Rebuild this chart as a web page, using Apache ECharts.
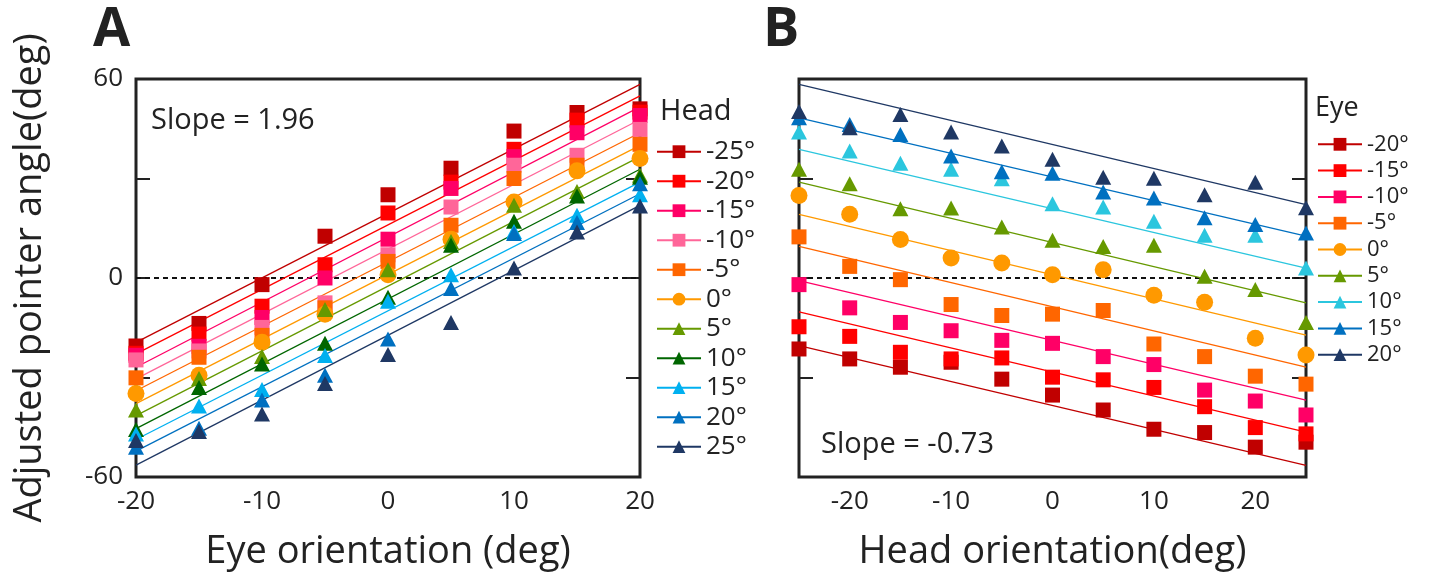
<!DOCTYPE html>
<html>
<head>
<meta charset="utf-8">
<script src="https://cdn.jsdelivr.net/npm/echarts@6/dist/echarts.min.js"></script>
<style>
html, body { margin: 0; padding: 0; background: #fff; }
#main { width: 1429px; height: 576px; }
</style>
</head>
<body>
<div id="main"></div>
<script>
// ---- panel A: x = eye orientation, one series per head orientation
var eyeA = [-20, -15, -10, -5, 0, 5, 10, 15, 20];
var headNamesA = ['-25°', '-20°', '-15°', '-10°', '-5°', '0°', '5°', '10°', '15°', '20°', '25°'];
var valuesA = [
    [-20.5, -13.7, -2.0, 12.6, 25.1, 33.1, 44.3, 49.9, 51.0],
    [-22.7, -16.9, -8.5, 4.0, 19.6, 28.9, 38.8, 47.6, 50.0],
    [-23.3, -20.6, -11.9, 0.0, 11.7, 27.0, 36.6, 43.8, 49.0],
    [-24.7, -22.0, -14.9, -7.5, 7.0, 21.4, 34.0, 37.0, 44.8],
    [-30.1, -23.9, -17.3, -9.0, 5.0, 15.9, 30.0, 34.0, 40.3],
    [-34.8, -29.3, -19.4, -10.9, 1.0, 11.7, 22.9, 32.3, 36.0],
    [-39.8, -30.3, -23.7, -9.5, 2.5, 11.0, 21.9, 26.1, 31.0],
    [-45.7, -33.0, -25.9, -19.7, -5.8, 9.9, 17.1, 24.7, 30.4],
    [-47.0, -38.6, -33.6, -23.4, -7.0, 1.0, 14.0, 18.9, 25.1],
    [-51.0, -45.3, -36.8, -29.3, -18.4, -3.2, 13.4, 16.7, 28.4],
    [-49.0, -46.3, -41.0, -31.8, -23.1, -13.4, 3.0, 13.9, 21.7]
];
// fitted lines, value at eye = -20 and eye = 20
var fitStartA = [-19.4, -22.9, -26.9, -30.4, -34.0, -37.9, -41.5, -45.4, -48.7, -52.2, -56.4];
var fitEndA = [58.4, 54.9, 51.6, 47.8, 43.8, 40.0, 36.6, 32.8, 28.9, 25.4, 21.9];

// ---- panel B: x = head orientation, one series per eye orientation
var headB = [-25, -20, -15, -10, -5, 0, 5, 10, 15, 20, 25];
var eyeNamesB = ['-20°', '-15°', '-10°', '-5°', '0°', '5°', '10°', '15°', '20°'];
var valuesB = [
    [-21.4, -24.4, -26.9, -25.4, -30.5, -35.3, -39.8, -45.6, -46.6, -51.0, -49.5],
    [-14.7, -17.6, -22.4, -24.4, -24.1, -29.9, -30.7, -33.0, -38.8, -45.1, -47.0],
    [-2.0, -9.0, -13.4, -15.9, -18.8, -19.7, -23.7, -26.1, -33.8, -37.1, -41.3],
    [12.4, 3.5, -0.5, -8.0, -11.3, -10.9, -9.8, -19.9, -23.7, -29.6, -32.0],
    [24.9, 19.2, 11.6, 6.0, 4.5, 1.0, 2.5, -5.2, -7.3, -18.2, -23.2],
    [32.8, 28.4, 20.9, 21.1, 15.4, 11.4, 9.5, 9.9, 0.5, -3.5, -13.4],
    [44.0, 38.3, 34.6, 32.8, 29.9, 22.4, 21.4, 17.1, 12.9, 12.9, 3.0],
    [48.3, 46.3, 43.3, 36.8, 32.0, 31.6, 25.9, 24.1, 18.2, 16.1, 13.6],
    [50.2, 45.3, 49.3, 44.0, 39.8, 35.8, 30.4, 30.1, 25.1, 28.9, 21.2]
];
// fitted lines, value at head = -25 and head = 25
var fitStartB = [-20.4, -10.2, -0.8, 9.5, 19.2, 28.9, 38.8, 48.3, 58.4];
var fitEndB = [-56.5, -46.5, -36.8, -26.9, -17.2, -7.5, 3.0, 12.6, 22.1];

var colorsA = ['#C00000', '#FF0000', '#FF0066', '#FF6699', '#FF6600', '#FF9900',
    '#669900', '#006600', '#00B0F0', '#0070C0', '#1F3864'];
var symbolsA = ['rect', 'rect', 'rect', 'rect', 'rect', 'circle',
    'triangle', 'triangle', 'triangle', 'triangle', 'triangle'];
var colorsB = ['#C00000', '#FF0000', '#FF0066', '#FF6600', '#FF9900',
    '#669900', '#2BC6DE', '#0070C0', '#1F3864'];
var symbolsB = ['rect', 'rect', 'rect', 'rect', 'circle',
    'triangle', 'triangle', 'triangle', 'triangle'];

var FONT = '"Open Sans", "Noto Sans", sans-serif';
var INK = '#222';

function symSize(s) {
    if (s == 'circle') return 17;
    if (s == 'triangle') return [16, 15];
    return 15;
}

var series = [];

function addPanel(prefix, xs, names, values, fitStart, fitEnd, xMin, xMax, colors, symbols, xIdx, yIdx) {
    // zero reference line
    series.push({
        type: 'line', xAxisIndex: xIdx, yAxisIndex: yIdx, symbol: 'none', silent: true, z: 1,
        lineStyle: { color: '#111', width: 2, type: [5, 4] },
        data: [[xMin, 0], [xMax, 0]]
    });
    for (var i = 0; i < names.length; i++) {
        // fitted line (first, so the legend takes its icon from it)
        series.push({
            name: prefix + names[i], type: 'line', xAxisIndex: xIdx, yAxisIndex: yIdx,
            symbol: symbols[i], showSymbol: false, z: 2, silent: true,
            color: colors[i],
            lineStyle: { color: colors[i], width: 1.3 },
            data: [[xMin, fitStart[i]], [xMax, fitEnd[i]]]
        });
    }
    for (var j = 0; j < names.length; j++) {
        series.push({
            name: prefix + names[j], type: 'scatter', xAxisIndex: xIdx, yAxisIndex: yIdx,
            symbol: symbols[j], symbolSize: symSize(symbols[j]), z: 3,
            itemStyle: { color: colors[j], opacity: 1 },
            data: xs.map(function (x, k) { return [x, values[j][k]]; })
        });
    }
}

addPanel('A|', eyeA, headNamesA, valuesA, fitStartA, fitEndA, -20, 20, colorsA, symbolsA, 0, 0);
addPanel('B|', headB, eyeNamesB, valuesB, fitStartB, fitEndB, -25, 25, colorsB, symbolsB, 1, 2);

function yAx(gridIndex, pos, labels, name) {
    return {
        type: 'value', gridIndex: gridIndex, position: pos, min: -60, max: 60, interval: 30,
        splitLine: { show: false },
        axisLine: { show: false, onZero: false },
        axisTick: { show: true, inside: true, length: 14, lineStyle: { color: INK, width: 2 } },
        axisLabel: {
            show: labels, margin: 13, fontSize: 26, fontFamily: FONT, color: INK,
            formatter: function (v) { return (v == 60 || v == 0 || v == -60) ? String(v) : ''; }
        },
        name: name || '', nameLocation: 'middle', nameGap: 87,
        nameTextStyle: { fontSize: 38, fontFamily: FONT, color: INK }
    };
}

function xAx(gridIndex, min, max, interval, name) {
    return {
        type: 'value', gridIndex: gridIndex, min: min, max: max, interval: interval,
        splitLine: { show: false },
        axisLine: { show: false, onZero: false },
        axisTick: { show: false },
        axisLabel: {
            margin: 12, fontSize: 26, fontFamily: FONT, color: INK,
            formatter: function (v) { return v % 10 == 0 ? String(v) : ''; }
        },
        name: name, nameLocation: 'middle', nameGap: 56,
        nameTextStyle: { fontSize: 38, fontFamily: FONT, color: INK }
    };
}

function legendFor(prefix, names, left, top, fontSize, gap) {
    return {
        data: names.map(function (n) { return prefix + n; }),
        orient: 'vertical', left: left, top: top, padding: 0,
        itemWidth: 44, itemHeight: 16, itemGap: gap,
        selectedMode: false,
        lineStyle: { width: 2 },
        formatter: function (n) { return n.slice(2); },
        textStyle: { fontSize: fontSize, lineHeight: fontSize, fontFamily: FONT, color: INK }
    };
}

function label(text, x, y, size, weight) {
    return {
        type: 'text', x: x, y: y, silent: true,
        style: {
            text: text, fill: INK, fontSize: size, fontFamily: FONT, fontWeight: weight || 'normal',
            textVerticalAlign: 'middle', verticalAlign: 'middle'
        }
    };
}

var chart = echarts.init(document.getElementById('main'));
chart.setOption({
    animation: false,
    backgroundColor: '#fff',
    grid: [
        { left: 136, right: 789, top: 79, bottom: 95, show: true, borderWidth: 3, borderColor: INK },
        { left: 799, right: 123, top: 79, bottom: 95, show: true, borderWidth: 3, borderColor: INK }
    ],
    xAxis: [
        xAx(0, -20, 20, 10, 'Eye orientation (deg)'),
        xAx(1, -25, 25, 5, 'Head orientation(deg)')
    ],
    yAxis: [
        yAx(0, 'left', true, 'Adjusted pointer angle(deg)'),
        yAx(0, 'right', false),
        yAx(1, 'left', false),
        yAx(1, 'right', false)
    ],
    legend: [
        legendFor('A|', headNamesA, 656, 138.7, 26, 3.5),
        legendFor('B|', eyeNamesB, 1317, 133.3, 22, 4.3)
    ],
    graphic: [
        label('A', 93, 31, 54, 'bold'),
        label('B', 763, 31, 54, 'bold'),
        label('Slope = 1.96', 151, 121, 29),
        label('Slope = -0.73', 821, 445, 29),
        label('Head', 660, 112, 29),
        label('Eye', 1315, 108, 27)
    ],
    series: series
});
</script>
</body>
</html>
